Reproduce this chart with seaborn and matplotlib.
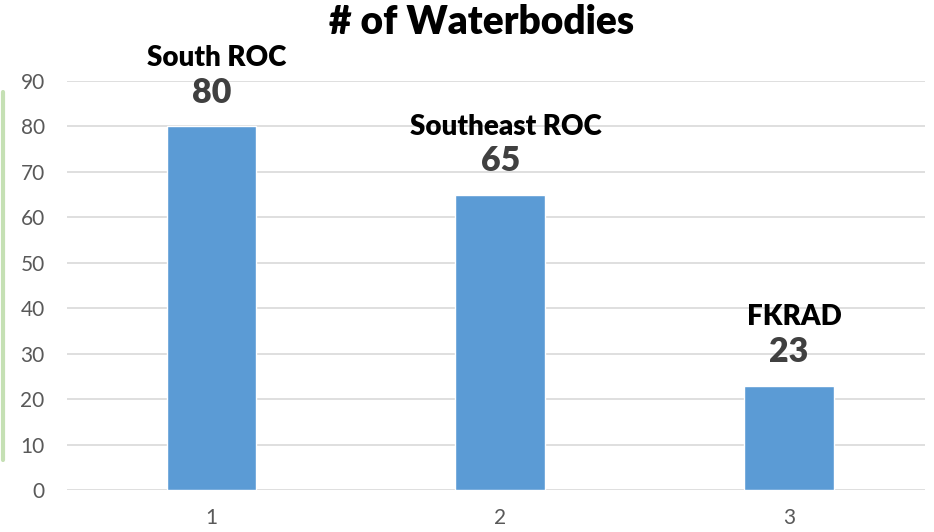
import numpy as np
import pandas as pd
import matplotlib.pyplot as plt
import seaborn as sns
from matplotlib.lines import Line2D

# chart data
categories = ['1', '2', '3']
names = ['South ROC', 'Southeast ROC', 'FKRAD']
counts = [80, 65, 23]

sns.set_style('whitegrid')
plt.rcParams['font.family'] = ['Lato', 'DejaVu Sans']

df = pd.DataFrame({'cat': categories, 'count': counts, 'name': names})

fig = plt.figure(figsize=(9.34, 5.32), dpi=100)
ax = fig.add_axes([0.0717, 0.0789, 0.9183, 0.7688])

sns.barplot(data=df, x='cat', y='count', order=categories, color='#5B9BD5',
            saturation=1, width=0.31, ax=ax)

ax.set_ylim(0, 90)
ax.set_xlim(-0.5, 2.47)
ax.set_yticks(np.arange(0, 91, 10))
ax.grid(axis='y', color='#D9D9D9', linewidth=1.2)
ax.grid(axis='x', visible=False)
ax.set_axisbelow(True)
for s in ax.spines.values():
    s.set_visible(False)
ax.set_xlabel('')
ax.set_ylabel('')
ax.tick_params(axis='y', length=0, pad=16, labelsize=15, labelcolor='#595959')
ax.tick_params(axis='x', length=0, pad=13, labelsize=15, labelcolor='#595959')

# data labels: category name above the value
for i, (nm, v) in enumerate(zip(names, counts)):
    ax.annotate(str(v), (i, v), xytext=(0, 24), textcoords='offset points',
                ha='center', va='center', fontsize=24.5, fontweight='heavy', color='#404040')
    ax.annotate(nm, (i, v), xytext=(4, 49), textcoords='offset points',
                ha='center', va='center', fontsize=20, fontweight='heavy', color='black')

fig.text(482 / 934, 1 - 22 / 532, '# of Waterbodies', ha='center', va='center',
         fontsize=28, fontweight='heavy', color='black')

# thin green accent line at left edge
fig.add_artist(Line2D([2.5 / 934, 2.5 / 934], [1 - 92 / 532, 1 - 460 / 532],
                      color='#C5E0B4', linewidth=3, transform=fig.transFigure))

fig.savefig('out.png', dpi=100)
